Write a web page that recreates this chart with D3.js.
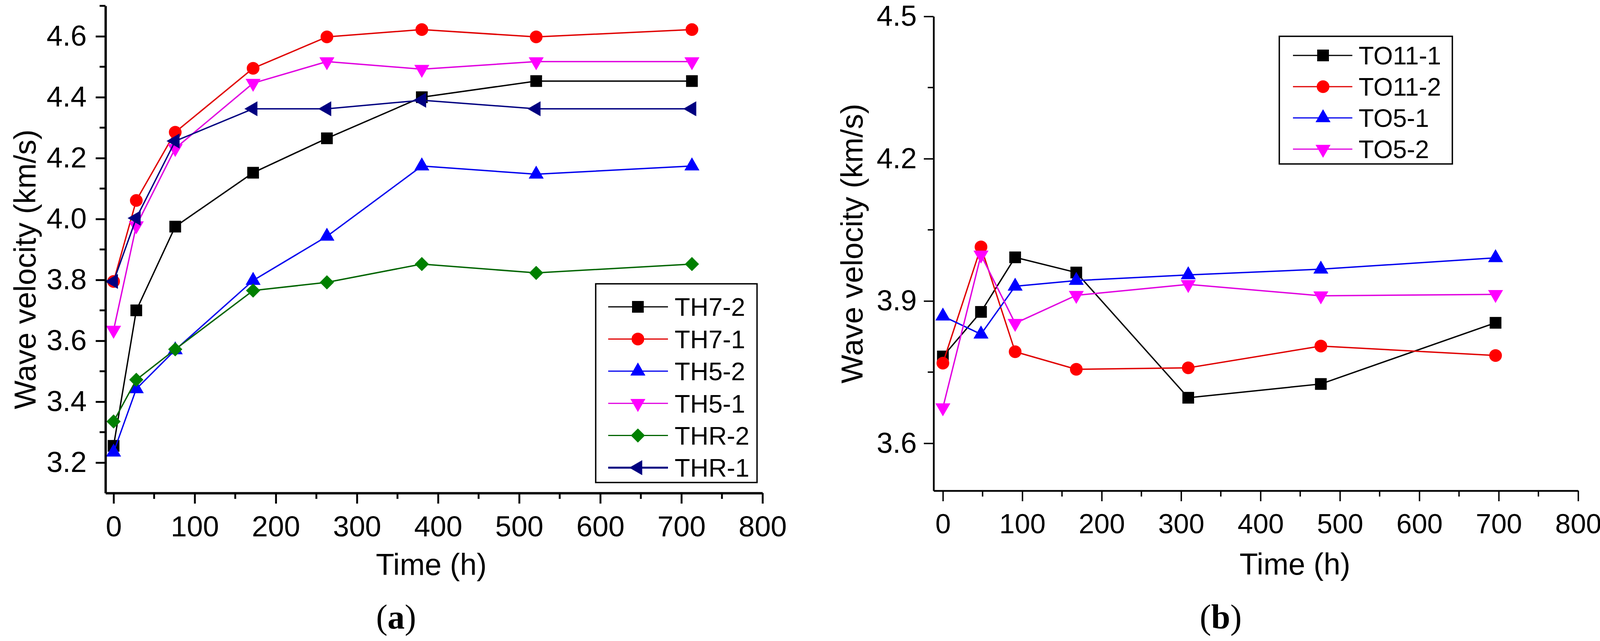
<!DOCTYPE html>
<html>
<head>
<meta charset="utf-8">
<script src="https://cdn.jsdelivr.net/npm/d3@7"></script>
<style>
  html, body { margin: 0; padding: 0; background: #fff; overflow: hidden; }
  svg { display: block; }
  text { font-family: "Liberation Sans", Arial, sans-serif; fill: #000; }
</style>
</head>
<body>
<svg id="chart" width="4136" height="1642"></svg>
<script>
// ---------- DATA ----------
const timeA = [0, 28, 76, 172, 263, 380, 521, 713];
const seriesNamesA = ["TH7-2", "TH7-1", "TH5-2", "TH5-1", "THR-2", "THR-1"];
const TH7_2 = [3.255, 3.70, 3.975, 4.152, 4.265, 4.400, 4.453, 4.453];
const TH7_1 = [3.795, 4.061, 4.285, 4.495, 4.598, 4.622, 4.598, 4.622];
const TH5_2 = [3.234, 3.442, 3.570, 3.798, 3.943, 4.174, 4.147, 4.174];
const TH5_1 = [3.635, 3.978, 4.232, 4.446, 4.517, 4.492, 4.517, 4.517];
const THR_2 = [3.335, 3.472, 3.572, 3.765, 3.792, 3.852, 3.823, 3.852];
const THR_1 = [3.795, 4.003, 4.256, 4.362, 4.362, 4.390, 4.362, 4.362];

const timeB = [0, 48, 91, 168, 309, 476, 696];
const seriesNamesB = ["TO11-1", "TO11-2", "TO5-1", "TO5-2"];
const TO11_1 = [3.783, 3.877, 3.992, 3.960, 3.696, 3.725, 3.854];
const TO11_2 = [3.769, 4.014, 3.793, 3.756, 3.759, 3.805, 3.785];
const TO5_1  = [3.868, 3.830, 3.931, 3.943, 3.955, 3.967, 3.991];
const TO5_2  = [3.675, 3.997, 3.853, 3.912, 3.935, 3.911, 3.914];

const xTicks = [0, 100, 200, 300, 400, 500, 600, 700, 800];
const xMinorTicks = [50, 150, 250, 350, 450, 550, 650, 750];
const yTicksA = [3.2, 3.4, 3.6, 3.8, 4.0, 4.2, 4.4, 4.6];
const yMinorA = [3.3, 3.5, 3.7, 3.9, 4.1, 4.3, 4.5, 4.7];
const yTicksB = [3.6, 3.9, 4.2, 4.5];
const yMinorB = [3.75, 4.05, 4.35];

// ---------- STYLE ----------
const colors = { black: "#000000", red: "#ff0000", blue: "#0000ff", magenta: "#ff00ff", green: "#008000", navy: "#000080" };
const lineColors = { black: "#000000", red: "#e00000", blue: "#0000ee", magenta: "#e000e0", green: "#006400", navy: "#000080" };

const seriesA = [
  { name: seriesNamesA[0], vals: TH7_2, c: "black", shape: "square" },
  { name: seriesNamesA[1], vals: TH7_1, c: "red", shape: "circle" },
  { name: seriesNamesA[2], vals: TH5_2, c: "blue", shape: "up" },
  { name: seriesNamesA[3], vals: TH5_1, c: "magenta", shape: "down" },
  { name: seriesNamesA[4], vals: THR_2, c: "green", shape: "diamond" },
  { name: seriesNamesA[5], vals: THR_1, c: "navy", shape: "left" }
];
const seriesB = [
  { name: seriesNamesB[0], vals: TO11_1, c: "black", shape: "square" },
  { name: seriesNamesB[1], vals: TO11_2, c: "red", shape: "circle" },
  { name: seriesNamesB[2], vals: TO5_1, c: "blue", shape: "up" },
  { name: seriesNamesB[3], vals: TO5_2, c: "magenta", shape: "down" }
];

const svg = d3.select("#chart");

function symbolPath(shape) {
  switch (shape) {
    case "square": return { d: d3.symbol(d3.symbolSquare, 900)(), rot: 0 };
    case "circle": return { d: d3.symbol(d3.symbolCircle, 830)(), rot: 0 };
    case "up": return { d: d3.symbol(d3.symbolTriangle, 640)(), rot: 0 };
    case "down": return { d: d3.symbol(d3.symbolTriangle, 640)(), rot: 180 };
    case "left": return { d: d3.symbol(d3.symbolTriangle, 640)(), rot: -90 };
    case "diamond": return { d: d3.symbol(d3.symbolSquare, 660)(), rot: 45 };
  }
}

function drawPanel(cfg) {
  const x = d3.scaleLinear().domain(cfg.xDomain).range([cfg.left, cfg.right]);
  const y = d3.scaleLinear().domain(cfg.yDomain).range([cfg.bottom, cfg.top]);
  const g = svg.append("g");

  // series
  cfg.series.forEach(s => {
    const pts = cfg.times.map((t, i) => [t, s.vals[i]]);
    g.append("path")
      .attr("d", d3.line().x(d => x(d[0])).y(d => y(d[1]))(pts))
      .attr("fill", "none")
      .attr("stroke", lineColors[s.c])
      .attr("stroke-width", 3.5)
      .attr("stroke-linejoin", "round");
    const sp = symbolPath(s.shape);
    g.selectAll(null).data(pts).enter().append("path")
      .attr("d", sp.d)
      .attr("transform", d => `translate(${x(d[0])},${y(d[1])}) rotate(${sp.rot})`)
      .attr("fill", colors[s.c]);
  });

  // axes
  const xAxis = d3.axisBottom(x).tickValues(xTicks).tickSize(27).tickSizeOuter(0).tickPadding(cfg.xPad).tickFormat(d3.format("d"));
  const gx = g.append("g").attr("transform", `translate(0,${cfg.bottom})`).call(xAxis);
  gx.selectAll("text").style("font-size", cfg.xFont + "px");
  gx.selectAll("line").attr("stroke-width", cfg.axisW * 0.8);
  gx.select(".domain").attr("stroke-width", cfg.axisW);
  gx.selectAll(".minor").data(xMinorTicks).enter().append("line")
    .attr("x1", d => x(d)).attr("x2", d => x(d)).attr("y1", 0).attr("y2", 15)
    .attr("stroke", "#000").attr("stroke-width", cfg.axisW * 0.8);

  const yAxis = d3.axisLeft(y).tickValues(cfg.yTicks).tickSize(25).tickSizeOuter(0).tickPadding(cfg.yPad).tickFormat(d3.format(".1f"));
  const gy = g.append("g").attr("transform", `translate(${cfg.left},0)`).call(yAxis);
  gy.selectAll("text").style("font-size", "74px");
  gy.selectAll("line").attr("stroke-width", cfg.axisW * 0.8);
  gy.select(".domain").attr("stroke-width", cfg.axisW);
  gy.selectAll(".minor").data(cfg.yMinor).enter().append("line")
    .attr("x1", 0).attr("x2", -15).attr("y1", d => y(d)).attr("y2", d => y(d))
    .attr("stroke", "#000").attr("stroke-width", cfg.axisW * 0.8);

  // titles
  g.append("text")
    .attr("transform", `translate(${cfg.yTitleX},${cfg.yTitleY}) rotate(-90)`)
    .attr("text-anchor", "middle").attr("dy", "0.36em")
    .style("font-size", "78px")
    .text("Wave velocity (km/s)");
  g.append("text")
    .attr("x", cfg.xTitleX).attr("y", cfg.xTitleY)
    .attr("text-anchor", "middle")
    .style("font-size", "77px")
    .text("Time (h)");
  const lab = g.append("text")
    .attr("x", cfg.labelX).attr("y", 1610)
    .attr("text-anchor", "middle")
    .style("font-family", "'Liberation Serif', 'Times New Roman', serif")
    .style("font-size", "88px");
  lab.append("tspan").text("(");
  lab.append("tspan").style("font-weight", "bold").text(cfg.label);
  lab.append("tspan").text(")");

  // legend
  const L = cfg.legend;
  g.append("rect")
    .attr("x", L.x0).attr("y", L.y0).attr("width", L.x1 - L.x0).attr("height", L.y1 - L.y0)
    .attr("fill", "#fff").attr("stroke", "#000").attr("stroke-width", 3.5);
  cfg.series.forEach((s, i) => {
    const ry = L.row0 + i * L.rowStep;
    g.append("line")
      .attr("x1", L.lineX0).attr("x2", L.lineX1).attr("y1", ry).attr("y2", ry)
      .attr("stroke", lineColors[s.c]).attr("stroke-width", s.c === "navy" ? 5 : 3);
    const sp = symbolPath(s.shape);
    g.append("path").attr("d", sp.d)
      .attr("transform", `translate(${L.markX},${ry}) rotate(${sp.rot})`)
      .attr("fill", colors[s.c]);
    g.append("text")
      .attr("x", L.textX).attr("y", ry).attr("dy", "0.36em")
      .style("font-size", L.font + "px")
      .text(s.name);
  });
}

drawPanel({
  left: 270, right: 1952, top: 15, bottom: 1263,
  xDomain: [-10, 800], yDomain: [3.1, 4.7],
  yTicks: yTicksA, yMinor: yMinorA,
  times: timeA, series: seriesA,
  axisW: 6, xPad: 31, yPad: 23, xFont: 74,
  yTitleX: 63, yTitleY: 690, xTitleX: 1104, xTitleY: 1473,
  labelX: 1014, label: "a",
  legend: { x0: 1525, x1: 1938, y0: 727, y1: 1236, row0: 786, rowStep: 82.4,
            lineX0: 1557, lineX1: 1710, markX: 1633, textX: 1727, font: 65 }
});

drawPanel({
  left: 2390, right: 4040, top: 42, bottom: 1257,
  xDomain: [-11.7, 800], yDomain: [3.5, 4.5],
  yTicks: yTicksB, yMinor: yMinorB,
  times: timeB, series: seriesB,
  axisW: 4.5, xPad: 32, yPad: 18, xFont: 71,
  yTitleX: 2180, yTitleY: 624, xTitleX: 3315, xTitleY: 1472,
  labelX: 3125, label: "b",
  legend: { x0: 3275, x1: 3718, y0: 93, y1: 420, row0: 142, rowStep: 80,
            lineX0: 3310, lineX1: 3462, markX: 3387, textX: 3478, font: 64 }
});
</script>
</body>
</html>
